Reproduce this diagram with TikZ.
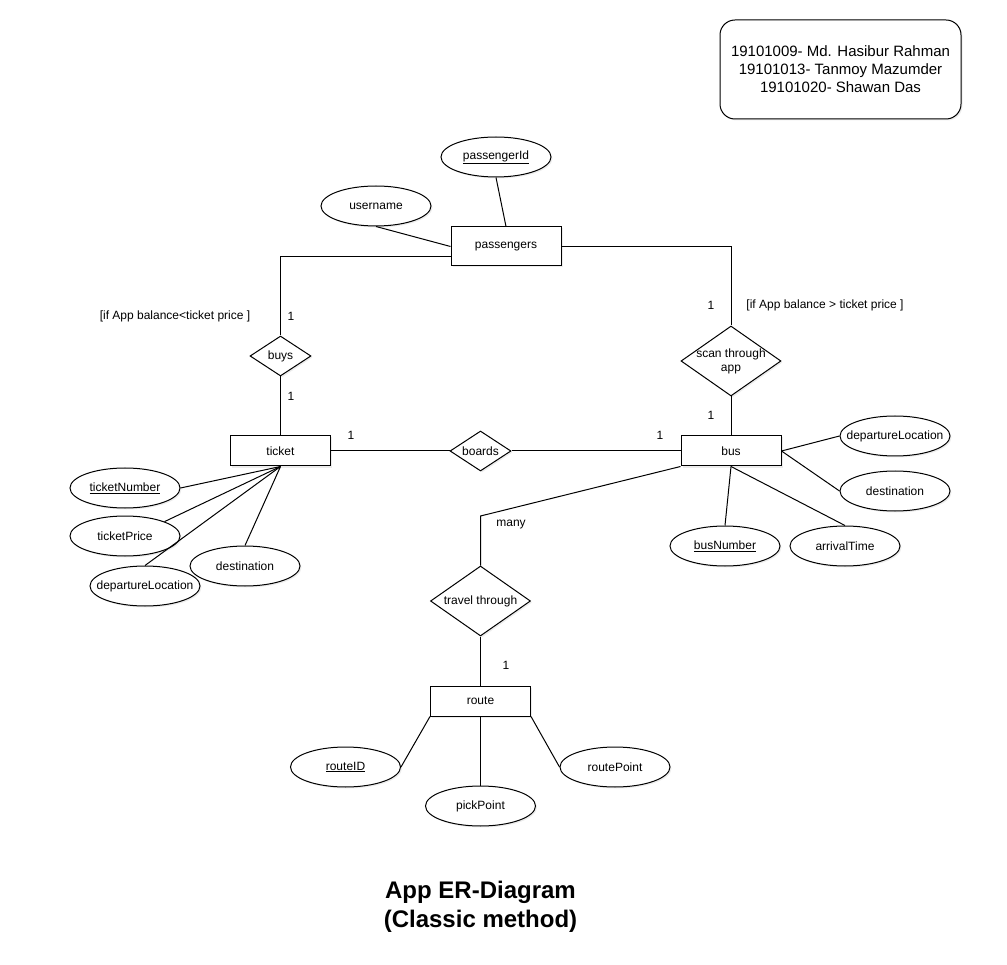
\documentclass[tikz,border=0pt]{standalone}
\usepackage{fontspec}
\setmainfont{Liberation Sans}
\usetikzlibrary{shapes.geometric,shadows}
\tikzset{
    softshadow/.style={drop shadow={opacity=0.15,shadow xshift=1.5pt,shadow yshift=-1.5pt}},
    entity/.style={draw,fill=white,line width=1pt,minimum width=100pt,minimum height=30pt,inner sep=0pt,softshadow},
    attrib/.style={ellipse,draw,fill=white,line width=1pt,minimum width=110pt,minimum height=40pt,inner sep=0pt,softshadow,label={center:#1}},
    relation/.style={diamond,draw,fill=white,line width=1pt,inner sep=0pt,softshadow,label={[align=center]center:#1}},
    link/.style={draw,line width=1pt},
    card/.style={inner sep=0pt},
    teambox/.style={draw,fill=white,line width=1pt,rounded corners=15pt,minimum width=241pt,minimum height=99pt,align=center,font=\fontsize{15}{18}\selectfont,softshadow},
    heading/.style={align=center,font=\fontsize{24}{29}\selectfont\bfseries}
}
\begin{document}
\begin{tikzpicture}[x=1pt,y=-1pt,font=\fontsize{12}{14}\selectfont]
\useasboundingbox (0,0) rectangle (1007,965);

\node[teambox] (team) at (840.5,69.5) {19101009- Md. Hasibur Rahman\\19101013- Tanmoy Mazumder\\19101020- Shawan Das};

\node[entity,minimum width=110pt,minimum height=39pt] (passengers) at (506,246.5) {passengers};
\node[attrib={\underline{passengerId}}] (pid) at (496,157) {};
\node[attrib=username] (uname) at (376,206) {};

\node[relation=buys,minimum width=61pt,minimum height=40pt] (buys) at (280.5,356) {};
\node[relation={scan through\\app},minimum width=100pt,minimum height=70pt] (scan) at (731,361) {};

\node[entity] (ticket) at (280.5,451) {ticket};
\node[relation=boards,minimum width=61pt,minimum height=40pt] (boards) at (480.5,451) {};
\node[entity] (bus) at (731,451) {bus};

\node[attrib={\underline{ticketNumber}}] (tnum) at (125,488) {};
\node[attrib=ticketPrice] (tprice) at (125,536) {};
\node[attrib=departureLocation] (tdep) at (145,586) {};
\node[attrib=destination] (tdest) at (245,566) {};

\node[attrib=departureLocation] (bdep) at (895,436) {};
\node[attrib=destination] (bdest) at (895,491) {};
\node[attrib={\underline{busNumber}}] (bnum) at (725,546) {};
\node[attrib=arrivalTime] (barr) at (845,546) {};

\node[relation={travel through},minimum width=100pt,minimum height=70pt] (travel) at (480.5,601) {};
\node[entity] (route) at (480.5,701) {route};
\node[attrib={\underline{routeID}}] (rid) at (345.5,767) {};
\node[attrib=pickPoint] (rpick) at (480.5,806) {};
\node[attrib=routePoint] (rpt) at (615,767) {};
\coordinate (bend) at (480.5,516);

\draw[link] (pid.south)--(passengers.north);
\draw[link] (uname.south)--(passengers.west);
\draw[link] ([yshift=-10.5pt]passengers.west)-|(buys.north);
\draw[link] (buys.south)--(ticket.north);
\draw[link] (passengers.east)-|(scan.north);
\draw[link] (scan.south)--(bus.north);
\draw[link] (ticket.east)--(boards.west);
\draw[link] (boards.east)--(bus.west);

\draw[link] (ticket.south)--(tnum.east);
\draw[link] (ticket.south)--(tprice.20);
\draw[link] (ticket.south)--(tdep.north);
\draw[link] (ticket.south)--(tdest.north);

\draw[link] (bus.east)--(bdep.west);
\draw[link] (bus.east)--(bdest.west);
\draw[link] (bus.south)--(bnum.north);
\draw[link] (bus.south)--(barr.north);

\draw[link] (bus.south west)--(bend)--(travel.north);
\draw[link] (travel.south)--(route.north);
\draw[link] (route.south west)--(rid.east);
\draw[link] (route.south)--(rpick.north);
\draw[link] (route.south east)--(rpt.west);

\node[card] (cbuysup) at (291,316) {1};
\node[card] (cbuysdown) at (291,396) {1};
\node[card] (cticket) at (351,435) {1};
\node[card] (cbus) at (660,435) {1};
\node[card] (cscanup) at (711,305) {1};
\node[card] (cscandown) at (711,415) {1};
\node[card] (cmany) at (511,525) {many};
\node[card] (croute) at (506,665) {1};
\node[card] (condlow) at (175,316) {[if App balance<ticket price ]};
\node[card] (condhigh) at (825,305) {[if App balance > ticket price ]};

\node[heading] (title) at (480.5,907) {App ER-Diagram\\(Classic method)};
\end{tikzpicture}
\end{document}
